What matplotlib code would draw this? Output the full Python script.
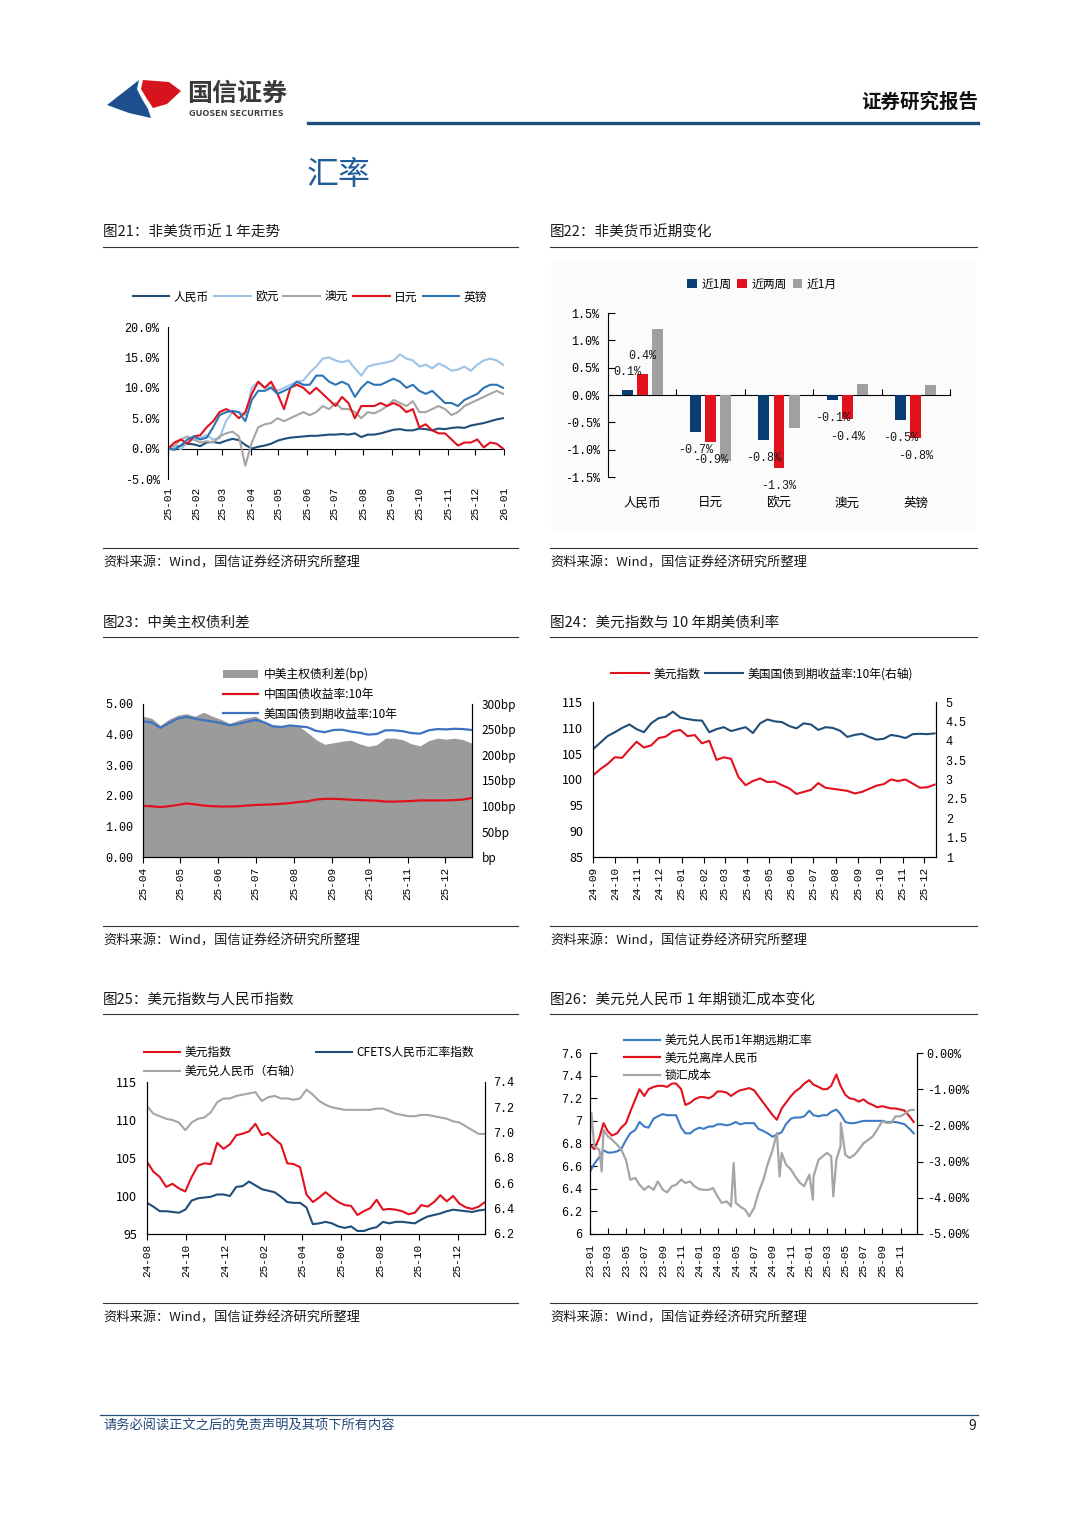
import matplotlib
matplotlib.use('Agg')
import matplotlib.pyplot as plt
import matplotlib.dates as mdates
import matplotlib.ticker as mticker
from matplotlib.lines import Line2D
from matplotlib.patches import Patch, Polygon, Rectangle
import pandas as pd

plt.rcParams['font.family'] = ['Noto Sans CJK SC', 'DejaVu Sans']
plt.rcParams['axes.unicode_minus'] = False
MONO = ['Liberation Mono', 'DejaVu Sans Mono']

NAVY = '#1f4e79'
RED = '#e1111e'
GRAY = '#a5a5a5'

# ---------------- data ----------------
# fig 21: weekly, % change vs USD since 2025-01-01
dates21 = pd.date_range('2025-01-01', periods=53, freq='7D')
names21 = ['人民币', '欧元', '澳元', '日元', '英镑']
cny21 = [0, 0.2, 0.5, 0.8, 0.7, 0.4, 1.0, 1.1, 0.9, 1.3, 1.6, 1.4, 0.6, 0.0, 0.3, 0.5, 0.8, 1.3,
         1.6, 1.8, 1.9, 2.0, 2.1, 2.1, 2.2, 2.3, 2.3, 2.4, 2.3, 2.5, 1.9, 2.3, 2.3, 2.5, 2.8, 3.1,
         3.2, 3.0, 3.0, 3.3, 3.2, 3.0, 3.3, 3.2, 3.4, 3.5, 3.4, 3.8, 4.0, 4.2, 4.5, 4.8, 5.0]
eur21 = [0, 0.3, -0.1, 1.0, 1.5, 1.8, 2.2, 1.5, 1.7, 4.5, 6.0, 6.0, 5.5, 10.0, 11.0, 10.0, 10.2,
         9.5, 10.0, 10.5, 11.0, 11.2, 12.5, 13.5, 14.8, 15.0, 14.5, 14.2, 14.5, 13.2, 12.0, 13.5,
         13.8, 14.0, 14.2, 14.5, 15.5, 14.8, 14.5, 13.5, 13.8, 13.2, 14.0, 13.5, 12.8, 13.0, 13.5,
         12.8, 13.8, 14.5, 14.8, 14.5, 13.8]
aud21 = [0, 0.5, 1.5, 2.0, 1.5, 1.0, 1.2, 1.0, 2.0, 2.5, 2.8, 2.0, -2.8, 1.0, 3.5, 4.0, 4.2, 5.0,
         4.5, 5.0, 5.5, 6.0, 5.5, 6.0, 7.0, 6.5, 7.5, 6.5, 6.5, 6.0, 5.0, 6.0, 5.8, 6.3, 7.0, 8.0,
         7.5, 7.0, 7.8, 6.0, 6.0, 6.5, 7.0, 6.5, 5.5, 6.0, 7.0, 7.5, 8.0, 8.5, 9.0, 9.5, 9.0]
jpy21 = [0, 1.0, 1.5, 0.8, 2.0, 2.2, 3.5, 4.5, 6.0, 6.5, 6.0, 5.0, 6.0, 9.0, 11.0, 10.0, 11.0,
         9.0, 6.5, 10.0, 10.5, 10.0, 9.0, 10.0, 9.0, 8.0, 7.0, 8.5, 7.5, 5.0, 7.0, 7.0, 7.0, 7.5,
         7.0, 7.5, 7.0, 6.0, 6.5, 3.5, 4.0, 3.0, 2.5, 2.5, 1.5, 0.5, 1.0, 1.0, 1.5, 0.2, 1.0, 0.8, 0.0]
gbp21 = [0, -0.2, 0.5, 1.5, 2.0, 1.5, 1.8, 3.5, 5.5, 6.0, 6.2, 6.0, 4.5, 8.0, 9.5, 9.5, 10.0,
         9.0, 9.5, 10.0, 11.0, 10.5, 10.5, 12.0, 12.0, 11.0, 10.5, 11.0, 10.5, 8.5, 10.0, 11.0,
         10.5, 10.5, 11.0, 11.5, 11.0, 10.0, 10.5, 9.5, 9.0, 9.5, 8.5, 7.5, 7.5, 7.0, 8.0, 8.5,
         9.0, 10.0, 10.5, 10.5, 10.0]

# fig 22: recent changes (%)
cats22 = ['人民币', '日元', '欧元', '澳元', '英镑']
periods22 = ['近1周', '近两周', '近1月']
week1_22 = [0.09, -0.67, -0.83, -0.09, -0.46]
week2_22 = [0.38, -0.86, -1.34, -0.43, -0.78]
month1_22 = [1.21, -1.20, -0.61, 0.21, 0.19]

# fig 23: weekly from 2025-04-01
dates23 = pd.date_range('2025-04-01', periods=39, freq='7D')
us10y23 = [4.43, 4.40, 4.22, 4.38, 4.52, 4.58, 4.52, 4.47, 4.43, 4.38, 4.30, 4.35, 4.42, 4.48,
           4.40, 4.27, 4.25, 4.30, 4.27, 4.24, 4.12, 4.08, 4.15, 4.16, 4.10, 4.06, 4.00, 4.02,
           4.14, 4.14, 4.11, 4.05, 4.03, 4.14, 4.18, 4.17, 4.19, 4.18, 4.15]
cn10y23 = [1.67, 1.66, 1.63, 1.66, 1.70, 1.75, 1.72, 1.68, 1.66, 1.65, 1.65, 1.66, 1.68, 1.70,
           1.71, 1.72, 1.74, 1.76, 1.80, 1.82, 1.88, 1.90, 1.90, 1.89, 1.87, 1.86, 1.85, 1.84,
           1.81, 1.81, 1.82, 1.83, 1.85, 1.85, 1.85, 1.85, 1.86, 1.88, 1.93]
spread23 = [276, 272, 258, 270, 278, 281, 276, 284, 276, 270, 262, 268, 273, 276, 266, 259, 257,
            259, 256, 244, 230, 221, 224, 227, 229, 222, 217, 220, 233, 233, 230, 222, 218, 228,
            233, 231, 233, 230, 223]

# fig 24: every 10 days from 2024-09-01
dates24 = pd.date_range('2024-09-01', periods=48, freq='10D')
dxy24 = [100.8, 102.0, 103.0, 104.3, 104.2, 105.8, 107.3, 106.2, 106.6, 108.0, 108.3, 109.3,
         109.6, 108.4, 108.6, 107.0, 107.5, 103.8, 104.3, 104.0, 100.5, 98.9, 99.7, 100.2, 99.5,
         99.6, 98.9, 98.3, 97.2, 97.6, 98.0, 99.3, 98.4, 98.2, 98.0, 97.8, 97.3, 97.6, 98.2, 98.8,
         99.1, 100.0, 99.7, 100.0, 99.2, 98.4, 98.5, 99.0]
ust24 = [3.78, 3.95, 4.12, 4.22, 4.33, 4.42, 4.30, 4.22, 4.45, 4.58, 4.62, 4.75, 4.60, 4.56,
         4.53, 4.52, 4.22, 4.30, 4.35, 4.25, 4.30, 4.35, 4.20, 4.45, 4.55, 4.50, 4.48, 4.38, 4.32,
         4.45, 4.42, 4.28, 4.35, 4.33, 4.26, 4.10, 4.15, 4.18, 4.10, 4.03, 4.05, 4.15, 4.12, 4.07,
         4.17, 4.18, 4.17, 4.19]

# fig 25: every 10 days from 2024-08-01
dates25 = pd.date_range('2024-08-01', periods=54, freq='10D')
dxy25 = [104.5, 103.2, 102.5, 101.2, 101.6, 101.0, 100.6, 102.5, 104.0, 104.3, 104.2, 107.0,
         106.2, 106.8, 108.0, 108.2, 108.5, 109.5, 108.0, 108.3, 107.5, 106.8, 104.3, 104.2,
         103.8, 100.2, 99.2, 99.8, 100.5, 99.8, 99.2, 98.8, 98.7, 97.5, 98.0, 98.4, 99.5, 98.2,
         98.3, 98.2, 98.0, 97.6, 97.8, 98.8, 98.6, 99.2, 100.1, 99.3, 100.0, 99.0, 98.5, 98.3,
         98.6, 99.2]
cfets25 = [99.1, 98.6, 98.0, 98.0, 97.9, 97.8, 98.2, 99.4, 99.7, 99.8, 99.9, 100.2, 100.2,
           100.0, 101.2, 101.3, 101.9, 101.4, 100.9, 100.7, 100.5, 99.9, 99.2, 99.1, 99.1, 98.5,
           96.3, 96.4, 96.6, 96.4, 96.0, 95.8, 96.0, 95.4, 95.4, 95.7, 95.9, 96.6, 96.4, 96.6,
           96.6, 96.5, 96.4, 96.9, 97.3, 97.5, 97.7, 98.0, 98.2, 98.1, 98.0, 97.9, 98.1, 98.2]
usdcny25 = [7.21, 7.15, 7.13, 7.11, 7.10, 7.08, 7.02, 7.08, 7.11, 7.12, 7.16, 7.24, 7.27, 7.27,
            7.29, 7.30, 7.31, 7.32, 7.25, 7.28, 7.29, 7.27, 7.27, 7.26, 7.27, 7.34, 7.30, 7.25,
            7.22, 7.20, 7.19, 7.18, 7.18, 7.18, 7.18, 7.18, 7.19, 7.19, 7.17, 7.15, 7.14, 7.13,
            7.13, 7.14, 7.14, 7.13, 7.12, 7.11, 7.09, 7.08, 7.05, 7.02, 6.99, 6.99]

# fig 26: semi-monthly from 2023-01-01
dates26 = pd.date_range('2023-01-01', periods=72, freq='SMS')
cnh26 = [6.79, 6.75, 6.85, 6.98, 6.91, 6.87, 6.89, 6.94, 6.98, 7.08, 7.19, 7.28, 7.22, 7.28,
         7.30, 7.31, 7.31, 7.30, 7.33, 7.33, 7.28, 7.14, 7.16, 7.19, 7.21, 7.21, 7.20, 7.22,
         7.26, 7.26, 7.25, 7.22, 7.25, 7.27, 7.28, 7.29, 7.27, 7.22, 7.16, 7.11, 7.05, 7.01,
         7.11, 7.16, 7.22, 7.26, 7.29, 7.33, 7.36, 7.32, 7.30, 7.28, 7.28, 7.31, 7.41, 7.31,
         7.23, 7.20, 7.19, 7.17, 7.19, 7.16, 7.14, 7.12, 7.13, 7.12, 7.11, 7.11, 7.10, 7.09,
         7.04, 6.99]
fwd26 = [6.55, 6.62, 6.68, 6.74, 6.72, 6.72, 6.73, 6.75, 6.83, 6.89, 6.92, 6.99, 6.95, 6.94,
         7.02, 7.04, 7.06, 7.05, 7.05, 7.05, 6.94, 6.89, 6.89, 6.92, 6.94, 6.93, 6.95, 6.95,
         6.97, 6.97, 6.96, 6.97, 6.99, 6.97, 6.98, 6.98, 6.98, 6.93, 6.91, 6.89, 6.86, 6.88,
         6.90, 6.97, 7.02, 7.03, 7.03, 7.04, 7.09, 7.05, 7.04, 7.05, 7.05, 7.08, 7.10, 7.06,
         6.99, 6.98, 6.98, 6.99, 7.00, 7.00, 7.00, 7.00, 7.00, 6.99, 6.99, 6.99, 6.98, 6.97,
         6.93, 6.89]
cost26 = [-2.21, -2.58, -2.67, -2.12, -2.30, -2.39, -2.53, -2.67, -2.95, -3.50, -3.45, -3.64,
          -3.78, -3.68, -3.78, -3.55, -3.78, -3.85, -3.68, -3.64, -3.50, -3.59, -3.55, -3.68,
          -3.76, -3.78, -3.78, -3.73, -3.96, -4.14, -4.10, -4.24, -4.14, -4.24, -4.33, -4.51,
          -4.28, -3.87, -3.50, -3.08, -2.67, -2.21, -2.76, -3.08, -3.22, -3.41, -3.59, -3.68,
          -3.36, -3.41, -2.95, -2.85, -2.76, -2.85, -2.95, -2.58, -2.81, -2.90, -2.81, -2.67,
          -2.49, -2.41, -2.30, -2.12, -1.89, -1.93, -1.93, -1.75, -1.75, -1.68, -1.58, -1.57]
spike_dates26 = ['2023-01-06', '2023-02-09', '2024-04-24', '2024-09-24', '2025-01-13',
                 '2025-03-22', '2025-04-16']
spike_vals26 = [-1.66, -3.27, -3.04, -3.41, -4.05, -3.96, -1.93]

# ---------------- page ----------------
W, H = 1080, 1527
fig = plt.figure(figsize=(W / 100, H / 100), dpi=100)
fig.patch.set_facecolor('white')


def box(l, t, r, b):
    return [l / W, 1 - b / H, (r - l) / W, (b - t) / H]


def ftext(x, y, s, **kw):
    fig.text(x / W, 1 - y / H, s, **kw)


def hline(x0, x1, y, color='#333333', lw=0.8):
    fig.add_artist(Line2D([x0 / W, x1 / W], [1 - y / H, 1 - y / H],
                          transform=fig.transFigure, color=color, lw=lw))


def spines(ax, left=True, right=False, bottom=True, top=False):
    for side, on in (('left', left), ('right', right), ('bottom', bottom), ('top', top)):
        ax.spines[side].set_visible(on)
        ax.spines[side].set_linewidth(0.8)
        ax.spines[side].set_color('black')


def fpos(x, y):
    return (x / W, 1 - y / H)


# header
navy_logo = [(107, 105), (139, 80), (137, 89), (142, 99), (148, 109), (151, 118), (129, 113)]
red_logo = [(143, 80), (169, 82), (181, 91), (167, 104), (153, 108), (147, 99), (141, 89)]
fig.add_artist(Polygon([fpos(*p) for p in navy_logo], closed=True, transform=fig.transFigure,
                       facecolor='#1d4f8f', edgecolor='none'))
fig.add_artist(Polygon([fpos(*p) for p in red_logo], closed=True, transform=fig.transFigure,
                       facecolor='#d7141e', edgecolor='none'))
ftext(187, 94, '国信证券', fontsize=18, fontweight='bold', color='#3a3a3a', va='center')
ftext(189, 114, 'GUOSEN SECURITIES', fontsize=6.6, fontweight='bold', color='#3a3a3a', va='center')
ftext(978, 102, '证券研究报告', fontsize=14, fontweight='bold', color='#111111', ha='right', va='center')
hline(308, 978, 123, color='#1f4e79', lw=2.4)
ftext(307, 175, '汇率', fontsize=23, color='#1f5c99', va='center')

# chart titles / source lines
titles = [(103, 233, '图21：非美货币近 1 年走势'), (550, 233, '图22：非美货币近期变化'),
          (103, 623, '图23：中美主权债利差'), (550, 623, '图24：美元指数与 10 年期美债利率'),
          (103, 1000, '图25：美元指数与人民币指数'), (550, 1000, '图26：美元兑人民币 1 年期锁汇成本变化')]
for x, y, s in titles:
    ftext(x, y, s, fontsize=10.5, color='#1a1a1a', va='center')
for y in (247, 637, 1014):
    hline(103, 518, y)
    hline(550, 977, y)
for y_line, y_txt in ((548, 563), (926, 941), (1303, 1318)):
    hline(103, 518, y_line)
    hline(550, 977, y_line)
    ftext(103, y_txt, '资料来源：Wind，国信证券经济研究所整理', fontsize=9.5, color='#1a1a1a', va='center')
    ftext(550, y_txt, '资料来源：Wind，国信证券经济研究所整理', fontsize=9.5, color='#1a1a1a', va='center')

# footer
hline(100, 978, 1415, color='#1f4e79', lw=0.9)
ftext(103, 1426, '请务必阅读正文之后的免责声明及其项下所有内容', fontsize=9.5, color='#24497a',
      va='center', fontstyle='italic')
ftext(976, 1426, '9', fontsize=10, color='#222222', ha='right', va='center')

pct1 = mticker.FuncFormatter(lambda v, p: f'{v:.1f}%')
DATE_FS = 8
NUM_FS = 8.5

# ---------------- fig 21 ----------------
ax = fig.add_axes(box(168, 327, 504, 479))
colors21 = [NAVY, '#9dc3e6', GRAY, RED, '#2e75b6']
for vals, c, n in zip([cny21, eur21, aud21, jpy21, gbp21], colors21, names21):
    ax.plot(dates21, vals, color=c, lw=1.5, label=n)
ax.set_xlim(pd.Timestamp('2025-01-01'), pd.Timestamp('2026-01-01'))
ax.set_ylim(-5, 20)
ax.yaxis.set_major_locator(mticker.MultipleLocator(5))
ax.yaxis.set_major_formatter(pct1)
ax.xaxis.set_major_locator(mdates.MonthLocator())
ax.xaxis.set_major_formatter(mdates.DateFormatter('%y-%m'))
ax.tick_params(axis='x', length=0, labelrotation=90, pad=6, labelsize=DATE_FS, labelfontfamily=MONO)
ax.tick_params(axis='y', length=0, pad=6, labelsize=NUM_FS, labelfontfamily=MONO)
spines(ax, bottom=False)
sec = ax.secondary_xaxis(0.2)
sec.xaxis.set_major_locator(mdates.MonthLocator())
sec.tick_params(axis='x', direction='out', length=4, width=0.8, labelbottom=False, labeltop=False)
for s in sec.spines.values():
    s.set_linewidth(0.8)
h, l = ax.get_legend_handles_labels()
fig.legend(h, l, loc='center', bbox_to_anchor=fpos(310, 297), ncol=5, frameon=False,
           fontsize=8.5, handlelength=3.1, handletextpad=0.4, columnspacing=0.4)

# ---------------- fig 22 ----------------
fig.add_artist(Rectangle(fpos(551, 530), (975 - 551) / W, (530 - 262) / H, transform=fig.transFigure,
                         facecolor='#fbfbfb', edgecolor='none', zorder=-5))
ax = fig.add_axes(box(608, 313, 950, 477))
ax.patch.set_visible(False)
colors22 = ['#0a3d72', RED, '#a0a0a0']
offsets = [-0.22, 0, 0.22]
xs = list(range(len(cats22)))
for k, (vals, c, off, n) in enumerate(zip([week1_22, week2_22, month1_22], colors22, offsets, periods22)):
    ax.bar([x + off for x in xs], vals, width=0.16, color=c, label=n, zorder=2)
    if k < 2:
        for x, v in zip(xs, vals):
            ax.annotate(f'{v:.1f}%', (x + off, v), xytext=(0, 13 if v > 0 else -13),
                        textcoords='offset points', ha='center', va='center', fontsize=8.5,
                        family=MONO, color='#1a1a1a', zorder=4)
ax.set_xlim(-0.5, 4.5)
ax.set_ylim(-1.5, 1.5)
ax.yaxis.set_major_locator(mticker.MultipleLocator(0.5))
ax.yaxis.set_major_formatter(pct1)
ax.set_xticks(xs)
ax.set_xticklabels(cats22)
ax.tick_params(axis='x', length=0, pad=14, labelsize=9)
ax.tick_params(axis='y', direction='in', length=5, width=0.8, pad=6, labelsize=NUM_FS, labelfontfamily=MONO)
spines(ax, bottom=False)
sec = ax.secondary_xaxis(0.5)
sec.set_xticks([0.5, 1.5, 2.5, 3.5, 4.5])
sec.tick_params(axis='x', direction='out', length=4, width=0.8, labeltop=False, labelbottom=False)
for s in sec.spines.values():
    s.set_linewidth(0.8)
h, l = ax.get_legend_handles_labels()
fig.legend(h, l, loc='center', bbox_to_anchor=fpos(762, 284), ncol=3, frameon=False,
           fontsize=8.5, handlelength=0.8, handleheight=0.8, handletextpad=0.4, columnspacing=0.5)

# ---------------- fig 23 ----------------
ax = fig.add_axes(box(143, 704, 472, 857))
axr = ax.twinx()
axr.fill_between(dates23, 0, spread23, color='#9b9b9b', lw=0)
ax.set_zorder(axr.get_zorder() + 1)
ax.patch.set_visible(False)
ax.plot(dates23, cn10y23, color=RED, lw=1.6)
ax.plot(dates23, us10y23, color='#3f72c0', lw=1.6)
ax.set_xlim(dates23[0], dates23[-1])
ax.set_ylim(0, 5)
axr.set_ylim(0, 300)
ax.yaxis.set_major_locator(mticker.MultipleLocator(1))
ax.yaxis.set_major_formatter(mticker.FuncFormatter(lambda v, p: f'{v:.2f}'))
axr.yaxis.set_major_locator(mticker.MultipleLocator(50))
axr.yaxis.set_major_formatter(mticker.FuncFormatter(lambda v, p: f'{v:.0f}bp' if v else 'bp'))
ax.xaxis.set_major_locator(mdates.MonthLocator())
ax.xaxis.set_major_formatter(mdates.DateFormatter('%y-%m'))
ax.tick_params(axis='x', direction='out', length=4, width=0.8, labelrotation=90, pad=3,
               labelsize=DATE_FS, labelfontfamily=MONO)
ax.tick_params(axis='y', length=0, pad=7, labelsize=NUM_FS, labelfontfamily=MONO)
axr.tick_params(axis='y', length=0, pad=7, labelsize=8.5)
spines(ax, right=True)
spines(axr, right=True)
h23 = [Patch(facecolor='#9b9b9b'), Line2D([], [], color=RED, lw=1.6), Line2D([], [], color='#3f72c0', lw=1.6)]
l23 = ['中美主权债利差(bp)', '中国国债收益率:10年', '美国国债到期收益率:10年']
fig.legend(h23, l23, loc='center left', bbox_to_anchor=fpos(218, 694), frameon=False, fontsize=8.5,
           handlelength=3.0, handleheight=0.7, handletextpad=0.5, labelspacing=0.58, borderaxespad=0)

# ---------------- fig 24 ----------------
ax = fig.add_axes(box(593, 702, 936, 857))
axr = ax.twinx()
ax.plot(dates24, dxy24, color=RED, lw=1.5, label='美元指数')
axr.plot(dates24, ust24, color=NAVY, lw=1.5, label='美国国债到期收益率:10年(右轴)')
ax.set_xlim(pd.Timestamp('2024-09-01'), pd.Timestamp('2025-12-17'))
ax.set_ylim(85, 115)
axr.set_ylim(1, 5)
ax.yaxis.set_major_locator(mticker.MultipleLocator(5))
axr.yaxis.set_major_locator(mticker.MultipleLocator(0.5))
axr.yaxis.set_major_formatter(mticker.FuncFormatter(lambda v, p: f'{v:g}'))
ax.xaxis.set_major_locator(mdates.MonthLocator())
ax.xaxis.set_major_formatter(mdates.DateFormatter('%y-%m'))
ax.tick_params(axis='x', direction='out', length=4, width=0.8, labelrotation=90, pad=3,
               labelsize=DATE_FS, labelfontfamily=MONO)
ax.tick_params(axis='y', length=0, pad=7, labelsize=9)
axr.tick_params(axis='y', length=0, pad=7, labelsize=NUM_FS, labelfontfamily=MONO)
spines(ax, right=True)
spines(axr, right=True)
h = ax.get_legend_handles_labels()[0] + axr.get_legend_handles_labels()[0]
l = ax.get_legend_handles_labels()[1] + axr.get_legend_handles_labels()[1]
fig.legend(h, l, loc='center', bbox_to_anchor=fpos(762, 674), ncol=2, frameon=False, fontsize=8.5,
           handlelength=3.2, handletextpad=0.4, columnspacing=0.4)

# ---------------- fig 25 ----------------
ax = fig.add_axes(box(147, 1082, 485, 1234))
axr = ax.twinx()
ax.plot(dates25, dxy25, color=RED, lw=1.5)
ax.plot(dates25, cfets25, color=NAVY, lw=1.5)
axr.plot(dates25, usdcny25, color=GRAY, lw=1.5)
ax.set_xlim(dates25[0], dates25[-1])
ax.set_ylim(95, 115)
axr.set_ylim(6.2, 7.4)
ax.yaxis.set_major_locator(mticker.MultipleLocator(5))
axr.yaxis.set_major_locator(mticker.MultipleLocator(0.2))
axr.yaxis.set_major_formatter(mticker.FuncFormatter(lambda v, p: f'{v:.1f}'))
ax.xaxis.set_major_locator(mdates.MonthLocator(bymonth=[2, 4, 6, 8, 10, 12]))
ax.xaxis.set_major_formatter(mdates.DateFormatter('%y-%m'))
ax.tick_params(axis='x', direction='out', length=4, width=0.8, labelrotation=90, pad=3,
               labelsize=DATE_FS, labelfontfamily=MONO)
ax.tick_params(axis='y', length=0, pad=7, labelsize=9)
axr.tick_params(axis='y', length=0, pad=6, labelsize=NUM_FS, labelfontfamily=MONO)
spines(ax, right=True)
spines(axr, right=True)
h25 = [Line2D([], [], color=RED, lw=1.5), Line2D([], [], color=GRAY, lw=1.5), Line2D([], [], color=NAVY, lw=1.5)]
l25 = ['美元指数', '美元兑人民币（右轴）', 'CFETS人民币汇率指数']
fig.legend(h25, l25, loc='center left', bbox_to_anchor=fpos(139, 1062), ncol=2, frameon=False,
           fontsize=8.5, handlelength=3.1, handletextpad=0.4, columnspacing=1.1, labelspacing=0.5,
           borderaxespad=0)

# ---------------- fig 26 ----------------
cost_series = pd.concat([pd.Series(cost26, index=dates26),
                         pd.Series(spike_vals26, index=pd.to_datetime(spike_dates26))]).sort_index()
ax = fig.add_axes(box(590, 1053, 917, 1234))
axr = ax.twinx()
ax.plot(dates26, fwd26, color='#3b7cc4', lw=1.5)
ax.plot(dates26, cnh26, color=RED, lw=1.5)
axr.plot(cost_series.index, cost_series.values, color=GRAY, lw=1.6)
ax.set_xlim(pd.Timestamp('2023-01-01'), pd.Timestamp('2025-12-26'))
ax.set_ylim(6, 7.6)
axr.set_ylim(-5, 0)
ax.yaxis.set_major_locator(mticker.MultipleLocator(0.2))
ax.yaxis.set_major_formatter(mticker.FuncFormatter(lambda v, p: f'{round(v, 1):g}'))
axr.yaxis.set_major_locator(mticker.MultipleLocator(1))
axr.yaxis.set_major_formatter(mticker.FuncFormatter(lambda v, p: f'{(v if abs(v) > 1e-9 else 0):.2f}%'))
ax.xaxis.set_major_locator(mdates.MonthLocator(bymonth=[1, 3, 5, 7, 9, 11]))
ax.xaxis.set_major_formatter(mdates.DateFormatter('%y-%m'))
ax.tick_params(axis='x', direction='in', length=4, width=0.8, labelrotation=90, pad=7,
               labelsize=DATE_FS, labelfontfamily=MONO)
ax.tick_params(axis='y', direction='in', length=5, width=0.8, pad=6, labelsize=NUM_FS, labelfontfamily=MONO)
axr.tick_params(axis='y', direction='out', length=4, width=0.8, pad=3, labelsize=NUM_FS, labelfontfamily=MONO)
spines(ax, right=True)
spines(axr, right=True)
h26 = [Line2D([], [], color='#3b7cc4', lw=1.6), Line2D([], [], color=RED, lw=1.6), Line2D([], [], color=GRAY, lw=1.6)]
l26 = ['美元兑人民币1年期远期汇率', '美元兑离岸人民币', '锁汇成本']
fig.legend(h26, l26, loc='center left', bbox_to_anchor=fpos(619, 1058), frameon=False, fontsize=8.5,
           handlelength=3.1, handletextpad=0.4, labelspacing=0.38, borderaxespad=0)

fig.savefig('out.png', dpi=100)
